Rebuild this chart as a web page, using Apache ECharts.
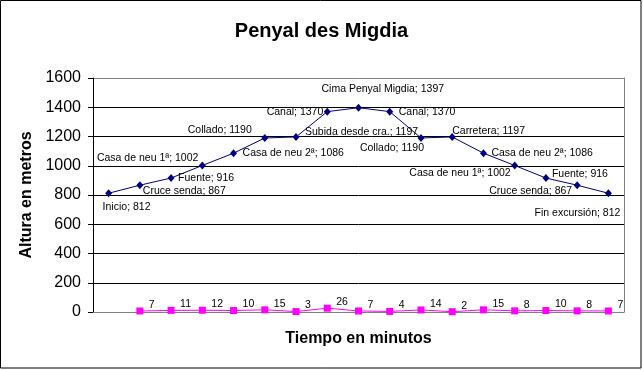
<!DOCTYPE html>
<html>
<head>
<meta charset="utf-8">
<script src="https://cdn.jsdelivr.net/npm/echarts@6/dist/echarts.min.js"></script>
<style>
html,body{margin:0;padding:0;background:#fff;}
#chart{width:643px;height:370px;}
</style>
</head>
<body>
<div id="chart"></div>
<script>
// ---- data ----
const places = ['Inicio','Cruce senda','Fuente','Casa de neu 1ª','Casa de neu 2ª','Collado','Subida desde cra.','Canal','Cima Penyal Migdia','Canal','Collado','Carretera','Casa de neu 2ª','Casa de neu 1ª','Fuente','Cruce senda','Fin excursión'];
const altitudes = [812,867,916,1002,1086,1190,1197,1370,1397,1370,1190,1197,1086,1002,916,867,812];
const minutes = [null,7,11,12,10,15,3,26,7,4,14,2,15,8,10,8,7];
const yMin = 0, yMax = 1600, yStep = 200;

// ---- label layout (style only) ----
const altLabelLayout = [
  {align:'left',  offset:[-6,14]},
  {align:'left',  offset:[3,6]},
  {align:'left',  offset:[7,0]},
  {align:'right', offset:[-4,-7]},
  {align:'left',  offset:[9,0]},
  {align:'right', offset:[-13,-8]},
  {align:'left',  offset:[9,-5]},
  {align:'right', offset:[-4,0]},
  {align:'left',  offset:[-37,-19]},
  {align:'left',  offset:[9,0]},
  {align:'right', offset:[3,10]},
  {align:'left',  offset:[0,-6]},
  {align:'left',  offset:[8,0]},
  {align:'right', offset:[-4,8]},
  {align:'left',  offset:[6,-4]},
  {align:'right', offset:[-5,6]},
  {align:'right', offset:[12,20]}
];

const FONT = '"Liberation Sans", Arial, sans-serif';
const chart = echarts.init(document.getElementById('chart'), null, {renderer:'canvas'});

const gridColors = [];
for (let v = yMin; v <= yMax; v += yStep) {
  gridColors.push((v === yMin || v === yMax) ? '#808080' : '#000000');
}

chart.setOption({
  animation: false,
  backgroundColor: '#ffffff',
  textStyle: {fontFamily: FONT},
  title: {
    text: 'Penyal des Migdia',
    left: 'center',
    top: 16,
    textStyle: {fontFamily: FONT, fontSize: 20, fontWeight: 'bold', color: '#000'}
  },
  graphic: [{
    type: 'rect',
    shape: {x: 0.5, y: 0.5, width: 640.5, height: 367.5},
    style: {fill: 'none', stroke: '#000', lineWidth: 1},
    silent: true
  }],
  grid: {left: 93, right: 19, top: 78, bottom: 58},
  xAxis: {
    type: 'category',
    data: places.map((p, i) => String(i)),
    boundaryGap: true,
    axisLine: {show: true, lineStyle: {color: '#808080', width: 1}},
    axisTick: {show: false},
    axisLabel: {show: false},
    splitLine: {show: false},
    name: 'Tiempo en minutos',
    nameLocation: 'middle',
    nameGap: 19,
    nameTextStyle: {fontFamily: FONT, fontSize: 16, fontWeight: 'bold', color: '#000'}
  },
  yAxis: [{
    type: 'value',
    min: yMin, max: yMax, interval: yStep,
    axisLine: {show: true, lineStyle: {color: '#000', width: 1}},
    axisTick: {show: true, inside: false, length: 5, lineStyle: {color: '#000'}},
    axisLabel: {fontFamily: FONT, fontSize: 16, color: '#000', margin: 12, formatter: v => String(v)},
    splitLine: {show: true, lineStyle: {color: gridColors, width: 1}},
    name: 'Altura en metros',
    nameLocation: 'middle',
    nameRotate: 90,
    nameGap: 54,
    nameTextStyle: {fontFamily: FONT, fontSize: 16, fontWeight: 'bold', color: '#000'}
  }, {
    type: 'value',
    position: 'right',
    min: yMin, max: yMax, interval: yStep,
    axisLine: {show: true, lineStyle: {color: '#808080', width: 1}},
    axisTick: {show: false},
    axisLabel: {show: false},
    splitLine: {show: false}
  }],
  series: [{
    type: 'line',
    name: 'Altura',
    data: altitudes.map((v, i) => ({
      value: v,
      label: {
        show: true,
        position: 'inside',
        align: altLabelLayout[i].align,
        verticalAlign: 'middle',
        offset: altLabelLayout[i].offset
      }
    })),
    symbol: 'diamond',
    symbolSize: [7, 8],
    itemStyle: {color: '#000080'},
    lineStyle: {color: '#000080', width: 1},
    label: {
      show: true,
      fontFamily: FONT,
      fontSize: 10.5,
      color: '#000',
      formatter: p => places[p.dataIndex] + '; ' + p.value
    },
    z: 3
  }, {
    type: 'line',
    name: 'Tiempo',
    data: minutes,
    connectNulls: false,
    symbol: 'rect',
    symbolSize: 7,
    itemStyle: {color: '#FF00FF'},
    lineStyle: {color: '#FF00FF', width: 1},
    label: {
      show: true,
      position: 'inside',
      align: 'left',
      verticalAlign: 'middle',
      offset: [9, -6],
      fontFamily: FONT,
      fontSize: 10.5,
      color: '#000',
      formatter: '{c}'
    },
    z: 4
  }]
});
</script>
</body>
</html>
